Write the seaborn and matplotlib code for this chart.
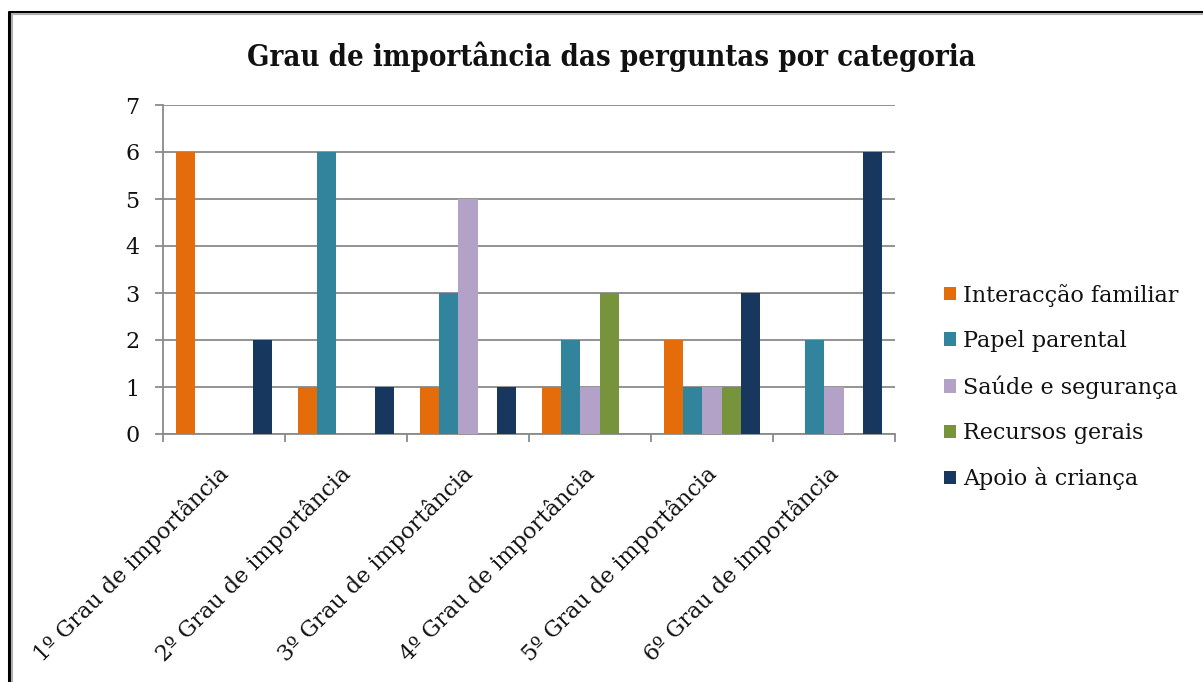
import matplotlib
matplotlib.use("Agg")
import matplotlib.pyplot as plt
from matplotlib.lines import Line2D
from matplotlib.ticker import FixedLocator
from matplotlib.transforms import ScaledTranslation
import seaborn as sns
import pandas as pd

categories = ["1º Grau de importância", "2º Grau de importância", "3º Grau de importância",
              "4º Grau de importância", "5º Grau de importância", "6º Grau de importância"]
series = ["Interacção familiar", "Papel parental", "Saúde e segurança",
          "Recursos gerais", "Apoio à criança"]
interaccao = [6, 1, 1, 1, 2, 0]
papel = [0, 6, 3, 2, 1, 2]
saude = [0, 0, 5, 1, 1, 1]
recursos = [0, 0, 0, 3, 1, 0]
apoio = [2, 1, 1, 0, 3, 6]
colors = ["#E46C0A", "#31849B", "#B3A2C7", "#77933C", "#17375E"]

values = [interaccao, papel, saude, recursos, apoio]
rows = []
for s, vals in zip(series, values):
    for c, v in zip(categories, vals):
        rows.append({"cat": c, "serie": s, "valor": v})
df = pd.DataFrame(rows)

sns.set_theme(style="white")
plt.rcParams["font.family"] = ["DejaVu Serif"]

W, H = 1203, 682
fig = plt.figure(figsize=(W / 100, H / 100), dpi=100)
ax = fig.add_axes([163 / W, 1 - 434 / H, (895 - 163) / W, (434 - 105) / H])

sns.barplot(data=df, x="cat", y="valor", hue="serie", order=categories,
            hue_order=series, palette=colors, width=0.78, saturation=1,
            edgecolor="none", linewidth=0, ax=ax, zorder=3)

grid_c = "#8a8a8a"
fs = 16
ax.set_xlim(-0.5, len(categories) - 0.5)
ax.set_ylim(0, 7)
ax.set_yticks(range(0, 8))
ax.yaxis.grid(True, color=grid_c, linewidth=1.3, zorder=0)
ax.set_axisbelow(True)
for sp in ["top", "right"]:
    ax.spines[sp].set_visible(False)
for sp in ["left", "bottom"]:
    ax.spines[sp].set_color(grid_c)
    ax.spines[sp].set_linewidth(1.3)
ax.set_xlabel("")
ax.set_ylabel("")

ax.tick_params(axis="y", which="major", length=6, width=1.3, color=grid_c,
               direction="out", pad=11, labelsize=fs, labelcolor="#111111", left=True)
ax.tick_params(axis="x", which="major", length=0, pad=20, labelsize=fs, labelcolor="#111111")
ax.xaxis.set_minor_locator(FixedLocator([i - 0.5 for i in range(len(categories) + 1)]))
ax.tick_params(axis="x", which="minor", length=6, width=1.3, color=grid_c,
               direction="out", bottom=True)
ax.set_xticks(range(len(categories)))
ax.set_xticklabels(categories, rotation=45, ha="right", rotation_mode="anchor")
shift = ScaledTranslation(-7 / 100, 0, fig.dpi_scale_trans)
for lbl in ax.get_xticklabels():
    lbl.set_transform(lbl.get_transform() + shift)

leg = ax.legend(loc="center left", bbox_to_anchor=(935 / W, 1 - 387 / H),
                bbox_transform=fig.transFigure, frameon=False, fontsize=fs,
                handlelength=0.55, handleheight=0.55, handletextpad=0.3,
                labelspacing=1.05, borderaxespad=0)
for t in leg.get_texts():
    t.set_color("#111111")

fig.text(611 / W, 1 - 57 / H, "Grau de importância das perguntas por categoria",
         ha="center", va="center", fontsize=21, fontweight="bold",
         family=["DejaVu Serif"], fontstretch="condensed", color="#111111")

# frame of the original image
fig.add_artist(Line2D([9 / W, 9 / W], [0, 1 - 12 / H], transform=fig.transFigure,
                      color="black", linewidth=2.2))
fig.add_artist(Line2D([9 / W, 1], [1 - 12 / H, 1 - 12 / H], transform=fig.transFigure,
                      color="black", linewidth=2.2))
fig.add_artist(Line2D([12 / W, 12 / W], [0, 1 - 14 / H], transform=fig.transFigure,
                      color="#b0b0b0", linewidth=1.5))
fig.add_artist(Line2D([12 / W, 1], [1 - 14 / H, 1 - 14 / H], transform=fig.transFigure,
                      color="#b0b0b0", linewidth=1.5))

fig.savefig("out.png", dpi=100, facecolor="white")
